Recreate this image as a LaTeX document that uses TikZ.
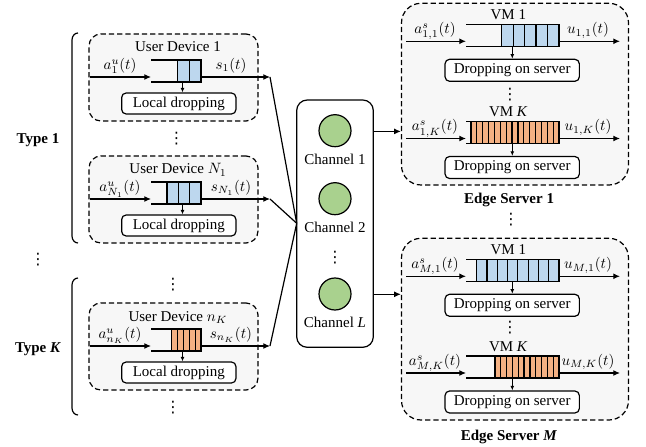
\documentclass[tikz,border=0pt]{standalone}
\usepackage{fontspec}
\setmainfont{Liberation Serif}
\newfontfamily\dvs{DejaVu Sans}
\usetikzlibrary{arrows.meta,fit}
\def\px{0.6667pt}
\definecolor{qblue}{HTML}{BDD7EE}
\definecolor{qorange}{HTML}{F4B183}
\definecolor{chgreen}{HTML}{A9D18E}
\definecolor{boxgray}{HTML}{F7F7F7}
\newcommand{\vd}{{\dvs\fontsize{10.5}{10.5}\selectfont ⋮}}
\tikzset{
 base/.style={line width=0.8pt},
 arr/.style={line width=0.8pt,-{Latex[length=4.5pt,width=4pt]}},
 darr/.style={line width=0.6pt,-{Latex[length=3pt,width=2.6pt]}},
 devbox/.style={draw,line width=0.8pt,dash pattern=on 3.5pt off 2pt,fill=boxgray,rounded corners=8pt,inner sep=0},
 srvbox/.style={devbox,rounded corners=13pt},
 dropbox/.style={draw,line width=0.8pt,fill=white,rounded corners=3pt,inner sep=0},
 lbl/.style={inner sep=0,anchor=base},
 dotn/.style={inner sep=0},
}
% queue: #1 name, #2 x open, #3 x cells, #4 x end, #5 y top, #6 n, #7 colour
\newcommand{\qq}[7]{%
  \draw[base] (#2,#5) -- (#3,#5) (#2,#5+22) -- (#3,#5+22);
  \pgfmathsetmacro{\cw}{(#4-#3)/#6}
  \foreach \i in {1,...,#6}{\draw[base,fill=#7] ({#3+(\i-1)*\cw},#5) rectangle ({#3+\i*\cw},#5+22);}
  \node[fit={(#2,#5) (#4,#5+22)},inner sep=0] (#1) {};
  \coordinate (#1-in) at (#2,#5+17);
  \coordinate (#1-out) at (#4,#5+17);
}
% user device: #1 name, #2 top, #3 title, #4 cell start, #5 n, #6 colour, #7 in label, #8 out label
\newcommand{\userdev}[8]{%
  \node[devbox,minimum width=169*\px,minimum height=87*\px] (#1) at (173.5,#2+43.5) {};
  \node[lbl] (#1-title) at (178,#2+18) {#3};
  \qq{#1q}{151}{#4}{201}{#2+26}{#5}{#6}
  \node[dropbox,minimum width=114.3*\px,minimum height=21*\px] (#1-drop) at (178.8,#2+69.5) {Local dropping};
  \coordinate (#1-src) at (90,#2+43);
  \coordinate (#1-tip) at (270,#2+43);
  \coordinate (#1-qb) at (182.5,#2+48);
  \draw[arr] (#1-src) -- (#1q-in);
  \draw[arr] (#1q-out) -- (#1-tip);
  \draw[darr] (#1-qb) -- (#1-qb |- #1-drop.north);
  \node[lbl] (#1-a) at (120,#2+35.5) {#7};
  \node[lbl] (#1-s) at (231,#2+35.5) {#8};
}
% VM block: #1 name, #2 queue top, #3 cell start, #4 n, #5 colour, #6 title, #7 in label, #8 out label
\newcommand{\vm}[8]{%
  \node[lbl] (#1-title) at (508.3,#2-4.5) {#6};
  \qq{#1q}{466}{#3}{559}{#2}{#4}{#5}
  \node[dropbox,minimum width=134.3*\px,minimum height=22*\px] (#1-drop) at (512.2,#2+46) {Dropping on server};
  \coordinate (#1-src) at (406,#2+17);
  \coordinate (#1-tip) at (620,#2+17);
  \coordinate (#1-qb) at (512.3,#2+22);
  \draw[arr] (#1-src) -- (#1q-in);
  \draw[arr] (#1q-out) -- (#1-tip);
  \draw[darr] (#1-qb) -- (#1-qb |- #1-drop.north);
  \node[lbl] (#1-a) at (435,#2+9.5) {#7};
  \node[lbl] (#1-u) at (588,#2+9.5) {#8};
}
\begin{document}
\begin{tikzpicture}[x=0.6667pt,y=-0.6667pt]
\useasboundingbox (0,0) rectangle (646,447);

% types
\node[font=\bfseries] (t1) at (38,140) {Type 1};
\node[font=\bfseries] (tK) at (38,349) {Type \textit{K}};
\node[dotn] (tdots) at (38,260) {\vd};
\draw[base] (78,33) to[out=180,in=90] (72,40) -- (72,236) to[out=-90,in=180] (78,243);
\draw[base] (78,278) to[out=180,in=90] (72,285) -- (72,408) to[out=-90,in=180] (78,415);

% user devices
\userdev{ud1}{34}{User Device 1}{177.7}{2}{qblue}{$a_1^u(t)$}{$s_1(t)$}
\userdev{udn}{156}{User Device $N_1$}{167}{3}{qblue}{$a_{N_1}^u(t)$}{$s_{N_1}(t)$}
\userdev{udk}{303}{User Device $n_K$}{171.7}{5}{qorange}{$a_{n_K}^u(t)$}{$s_{n_K}(t)$}
\node[dotn] (ud) at (176.5,139) {\vd};
\node[dotn] (ud2) at (173,285) {\vd};
\node[dotn] (ud3) at (173,407.5) {\vd};

% channels
\node[draw,base,rounded corners=7pt,minimum width=76.6*\px,minimum height=247.3*\px,inner sep=0] (chan) at (335,223.65) {};
\node[circle,draw,base,fill=chgreen,minimum size=32*\px,inner sep=0] (c1) at (335,130.7) {};
\node[circle,draw,base,fill=chgreen,minimum size=32*\px,inner sep=0] (c2) at (335,198.7) {};
\node[circle,draw,base,fill=chgreen,minimum size=32*\px,inner sep=0] (cL) at (335,294) {};
\node[lbl] (c1l) at (335,164.5) {Channel 1};
\node[lbl] (c2l) at (335,232.8) {Channel 2};
\node[dotn] (cd) at (335,257.5) {\vd};
\node[lbl] (cLl) at (335,327.8) {Channel \textit{L}};
\coordinate (cj) at (296.7,223.3);
\draw[base] (ud1-tip) -- (cj);
\draw[base] (udn-tip) -- (cj);
\draw[base] (udk-tip) -- (cj);

% edge servers
\node[srvbox,minimum width=227*\px,minimum height=181.7*\px] (es1) at (515,94.15) {};
\node[srvbox,minimum width=227*\px,minimum height=181.7*\px] (esm) at (515,329.15) {};
\vm{e1a}{24.3}{501.7}{5}{qblue}{VM 1}{$a_{1,1}^s(t)$}{$u_{1,1}(t)$}
\node[dotn] (e1d) at (510,95) {\vd};
\vm{e1k}{121.5}{471}{15}{qorange}{VM \textit{K}}{$a_{1,K}^s(t)$}{$u_{1,K}(t)$}
\node[lbl,font=\bfseries] (e1t) at (509,204) {Edge Server 1};
\vm{ema}{259.3}{476.7}{8}{qblue}{VM 1}{$a_{M,1}^s(t)$}{$u_{M,1}(t)$}
\node[dotn] (emd) at (510,327.5) {\vd};
\vm{emk}{356}{495}{11}{qorange}{VM \textit{K}}{$a_{M,K}^s(t)$}{$u_{M,K}(t)$}
\node[lbl,font=\bfseries] (emt) at (509,440) {Edge Server \textit{M}};
\node[dotn] (esd) at (511,220) {\vd};

\coordinate (co1) at (373.3,131.4);
\coordinate (coM) at (373.3,294.3);
\draw[arr] (co1) -- (co1 -| es1.west);
\draw[arr] (coM) -- (coM -| esm.west);
\end{tikzpicture}
\end{document}
